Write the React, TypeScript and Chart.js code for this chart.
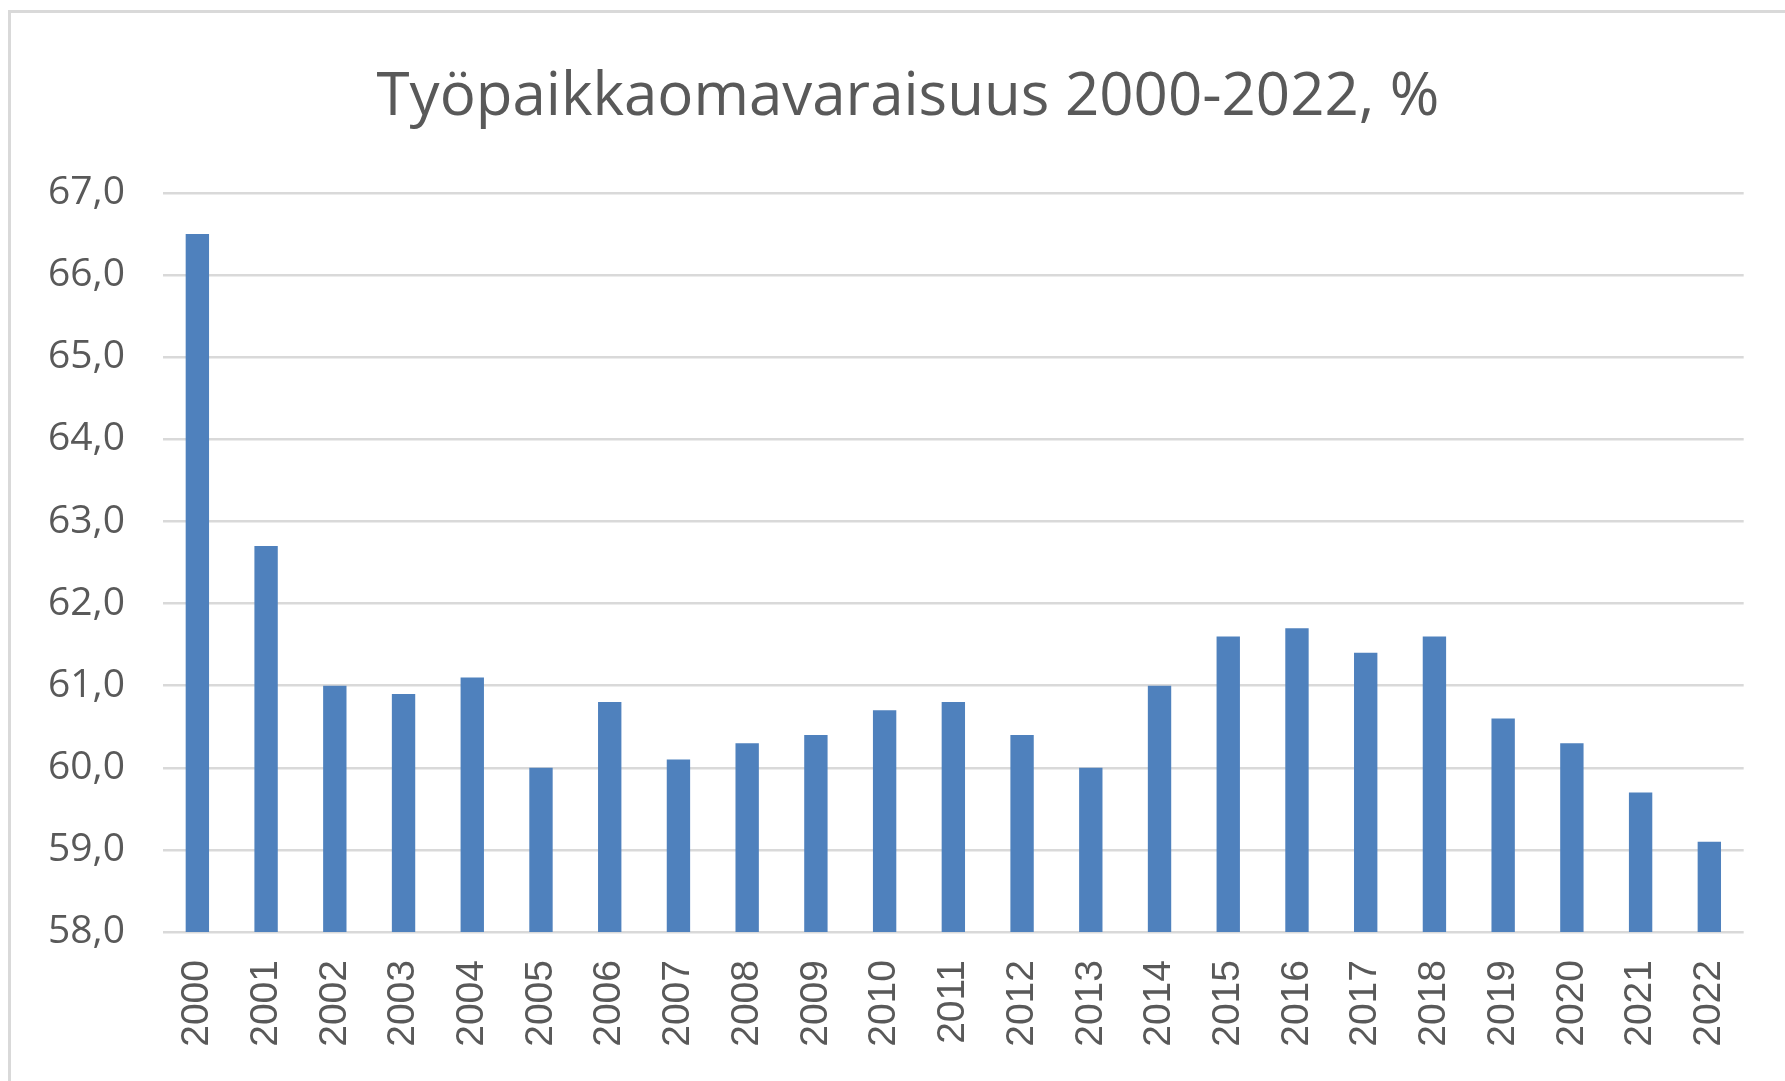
import React, { useEffect, useRef } from "react";
import { Chart, registerables } from "chart.js";

Chart.register(...registerables);

const years: string[] = [
  "2000", "2001", "2002", "2003", "2004", "2005", "2006", "2007", "2008", "2009", "2010", "2011",
  "2012", "2013", "2014", "2015", "2016", "2017", "2018", "2019", "2020", "2021", "2022",
];
const values: number[] = [
  66.5, 62.7, 61.0, 60.9, 61.1, 60.0, 60.8, 60.1, 60.3, 60.4, 60.7, 60.8,
  60.4, 60.0, 61.0, 61.6, 61.7, 61.4, 61.6, 60.6, 60.3, 59.7, 59.1,
];
const yMin = 58;
const yMax = 67;
const yStep = 1;
const chartTitle = "Työpaikkaomavaraisuus 2000-2022, %";

const W = 1785;
const H = 1081;
const TEXT = "#595959";
const GRID = "#d9d9d9";
const BAR = "#4f81bd";

export default function App() {
  const ref = useRef<HTMLCanvasElement | null>(null);

  useEffect(() => {
    document.body.style.margin = "0";
    document.body.style.overflow = "hidden";
    const canvas = ref.current;
    if (!canvas) return;

    const framePlugin = {
      id: "frame",
      beforeDraw(chart: any) {
        const ctx = chart.ctx;
        ctx.save();
        ctx.fillStyle = "#ffffff";
        ctx.fillRect(0, 0, W, H);
        ctx.strokeStyle = GRID;
        ctx.lineWidth = 3;
        ctx.strokeRect(9.5, 11.5, W * 2, H * 2);
        ctx.restore();
      },
    };
    const titlePlugin = {
      id: "customTitle",
      afterDraw(chart: any) {
        const ctx = chart.ctx;
        ctx.save();
        ctx.fillStyle = TEXT;
        ctx.font = "60px 'Open Sans'";
        ctx.textAlign = "center";
        ctx.textBaseline = "alphabetic";
        ctx.fillText(chartTitle, 908, 115);
        ctx.restore();
      },
    };

    const chart = new Chart(canvas, {
      type: "bar",
      data: {
        labels: years,
        datasets: [
          {
            data: values,
            backgroundColor: BAR,
            borderWidth: 0,
            barPercentage: 0.34,
            categoryPercentage: 1,
          },
        ],
      },
      options: {
        responsive: false,
        animation: false,
        devicePixelRatio: 1,
        layout: { padding: { left: 0, right: W - 1745, top: 193, bottom: 0 } },
        plugins: {
          legend: { display: false },
          title: { display: false },
          tooltip: { enabled: false },
        },
        scales: {
          x: {
            grid: { display: false, drawTicks: false },
            border: { display: false },
            ticks: {
              color: TEXT,
              font: { family: "'Liberation Sans'", size: 39 },
              minRotation: 90,
              maxRotation: 90,
              padding: 28,
              autoSkip: false,
            },
            afterFit(scale: any) {
              scale.height = H - 932;
            },
          },
          y: {
            min: yMin,
            max: yMax,
            grid: { color: GRID, lineWidth: 2.5, drawTicks: false },
            border: { display: false },
            ticks: {
              stepSize: yStep,
              color: TEXT,
              font: { family: "'Open Sans'", size: 39 },
              padding: 38,
              callback: (v: any) => Number(v).toFixed(1).replace(".", ","),
            },
            afterFit(scale: any) {
              scale.width = 163;
            },
          },
        },
      },
      plugins: [framePlugin, titlePlugin],
    });

    return () => chart.destroy();
  }, []);

  return <canvas ref={ref} width={W} height={H} style={{ display: "block", width: W, height: H }} />;
}
